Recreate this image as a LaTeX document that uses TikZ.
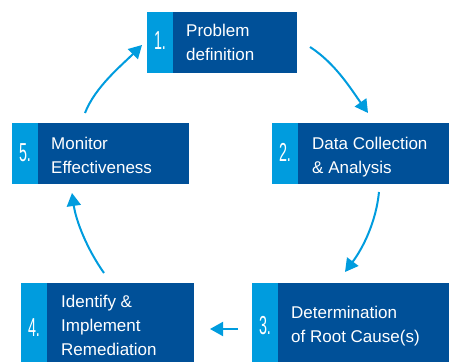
\documentclass[tikz,border=0pt]{standalone}
\usepackage{fontspec}
\usepackage{graphicx}
\setmainfont{Liberation Sans}
\usetikzlibrary{arrows.meta}
\definecolor{darkb}{RGB}{0,80,152}
\definecolor{lightb}{RGB}{0,156,222}
\begin{document}
\begin{tikzpicture}[x=1pt,y=1pt,
  darkbox/.style={fill=darkb, draw=none, anchor=south west, inner sep=0, outer sep=0, minimum height=61pt},
  stripbox/.style={fill=lightb, draw=none, anchor=south west, inner sep=0, outer sep=0, minimum width=26pt, minimum height=61pt},
  numtxt/.style={text=white, inner sep=0, font=\fontsize{26}{26}\selectfont},
  lbl/.style={text=white, inner sep=0, anchor=base west, align=left, font=\fontsize{17}{24}\selectfont},
  flow/.style={draw=lightb, line width=2pt, -{Triangle[length=13pt,width=14pt]}}]
\useasboundingbox (0,0) rectangle (449,362);
% box 1
\node[darkbox, minimum width=150pt] (b1) at (147,289) {};
\node[stripbox] (s1) at (147,289) {};
\node[numtxt] (n1) at (160,321) {\scalebox{0.55}[1]{1.}};
\node[lbl] (t1) at (186,301) {Problem\\definition};
% box 2
\node[darkbox, minimum width=177pt] (b2) at (272,178) {};
\node[stripbox] (s2) at (272,178) {};
\node[numtxt] (n2) at (285,209.5) {\scalebox{0.55}[1]{2.}};
\node[lbl] (t2) at (312,189) {Data Collection\\\& Analysis};
% box 3
\node[darkbox, minimum width=197pt, minimum height=79pt] (b3) at (252,0) {};
\node[stripbox, minimum height=79pt] (s3) at (252,0) {};
\node[numtxt] (n3) at (265,36) {\scalebox{0.55}[1]{3.}};
\node[lbl] (t3) at (291,20) {Determination\\of Root Cause(s)};
% box 4
\node[darkbox, minimum width=173pt, minimum height=79pt] (b4) at (21,0) {};
\node[stripbox, minimum height=79pt] (s4) at (21,0) {};
\node[numtxt] (n4) at (34,34) {\scalebox{0.55}[1]{4.}};
\node[lbl] (t4) at (61,7) {Identify \&\\Implement\\Remediation};
% box 5
\node[darkbox, minimum width=177pt] (b5) at (12,178) {};
\node[stripbox] (s5) at (12,178) {};
\node[numtxt] (n5) at (25,209.5) {\scalebox{0.55}[1]{5.}};
\node[lbl] (t5) at (51,189) {Monitor\\Effectiveness};
% arrow end points
\coordinate (a1s) at (310,315); \coordinate (a1e) at (368,249);
\coordinate (a2s) at (379,170); \coordinate (a2e) at (345,90);
\coordinate (a3s) at (238,33);  \coordinate (a3e) at (210,33);
\coordinate (a4s) at (104,89);  \coordinate (a4e) at (72,169);
\coordinate (a5s) at (85,249);  \coordinate (a5e) at (142,317);
\draw[flow] (a1s) .. controls (335,299) and (351,273) .. (a1e);
\draw[flow] (a2s) .. controls (376,140) and (363,114) .. (a2e);
\draw[flow] (a3s) -- (a3e);
\draw[flow] (a4s) .. controls (87,113) and (76,141) .. (a4e);
\draw[flow] (a5s) .. controls (95,275) and (122,297) .. (a5e);
\end{tikzpicture}
\end{document}
